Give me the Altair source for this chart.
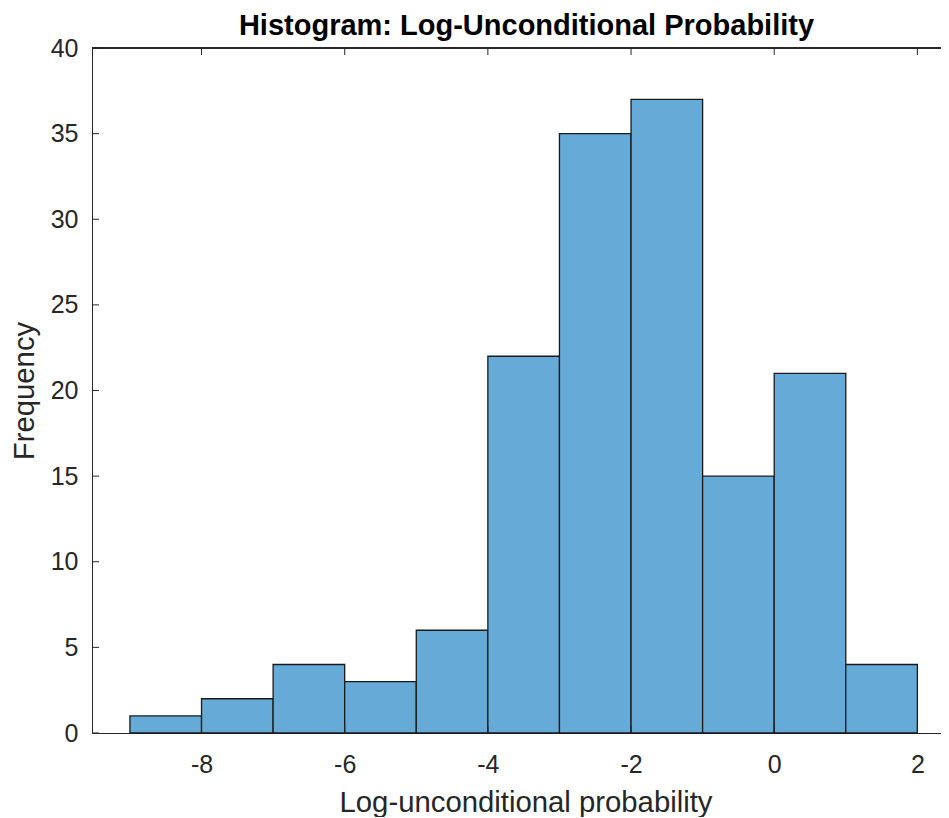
import altair as alt
import pandas as pd

bin_start = [-9, -8, -7, -6, -5, -4, -3, -2, -1, 0, 1]
bin_end = [-8, -7, -6, -5, -4, -3, -2, -1, 0, 1, 2]
counts = [1, 2, 4, 3, 6, 22, 35, 37, 15, 21, 4]
x_ticks = [-8, -6, -4, -2, 0, 2]
y_ticks = [0, 5, 10, 15, 20, 25, 30, 35, 40]

W, H = 849, 685
TXT = "#262626"
FONT = "Liberation Sans"

bars_df = pd.DataFrame({"start": bin_start, "end": bin_end, "count": counts})
xt_df = pd.DataFrame({"t": x_ticks})
yt_df = pd.DataFrame({"t": y_ticks})

xscale = alt.Scale(domain=[-9.53, 2.33], nice=False, zero=False)
yscale = alt.Scale(domain=[0, 40], nice=False)

bars = alt.Chart(bars_df).mark_rect(
    fill="#66AAD7", stroke="#1a1a1a", strokeWidth=1.3
).encode(
    x=alt.X("start:Q", scale=xscale,
            axis=alt.Axis(values=x_ticks, title="Log-unconditional probability",
                          tickSize=0, labelPadding=19, titlePadding=11,
                          titleX=W / 2 + 9,
                          labelExpr="'' + datum.value", grid=False)),
    x2="end:Q",
    y=alt.Y("count:Q", scale=yscale,
            axis=alt.Axis(values=y_ticks, title="Frequency", tickSize=0,
                          labelPadding=14, titlePadding=11, grid=False)),
)

xt_bottom = alt.Chart(xt_df).mark_rule(color=TXT, strokeWidth=1).encode(
    x=alt.X("t:Q", scale=xscale), y=alt.value(H), y2=alt.value(H - 7))
xt_top = alt.Chart(xt_df).mark_rule(color=TXT, strokeWidth=1).encode(
    x=alt.X("t:Q", scale=xscale), y=alt.value(0), y2=alt.value(7))
yt_left = alt.Chart(yt_df).mark_rule(color=TXT, strokeWidth=1).encode(
    y=alt.Y("t:Q", scale=yscale), x=alt.value(0), x2=alt.value(7))
top_border = alt.Chart(xt_df).mark_rule(color=TXT, strokeWidth=1).encode(
    x=alt.value(0), x2=alt.value(W + 10), y=alt.value(0))

chart = alt.layer(bars, xt_bottom, xt_top, yt_left, top_border).properties(
    width=W, height=H,
    title=alt.TitleParams("Histogram: Log-Unconditional Probability",
                          font=FONT, fontSize=29, fontWeight="bold",
                          color="#000000", offset=-5, dx=10),
    autosize=alt.AutoSizeParams(type="none"),
    padding={"left": 84, "top": 40, "right": 0, "bottom": 84},
).configure_axis(
    labelFont=FONT, titleFont=FONT, labelFontSize=25, titleFontSize=29.3,
    labelColor=TXT, titleColor=TXT, domainColor=TXT, domainWidth=1,
    titleFontWeight="normal",
).configure_view(stroke=None)

chart.save("out.html", embed_options={"renderer": "svg", "actions": False})
